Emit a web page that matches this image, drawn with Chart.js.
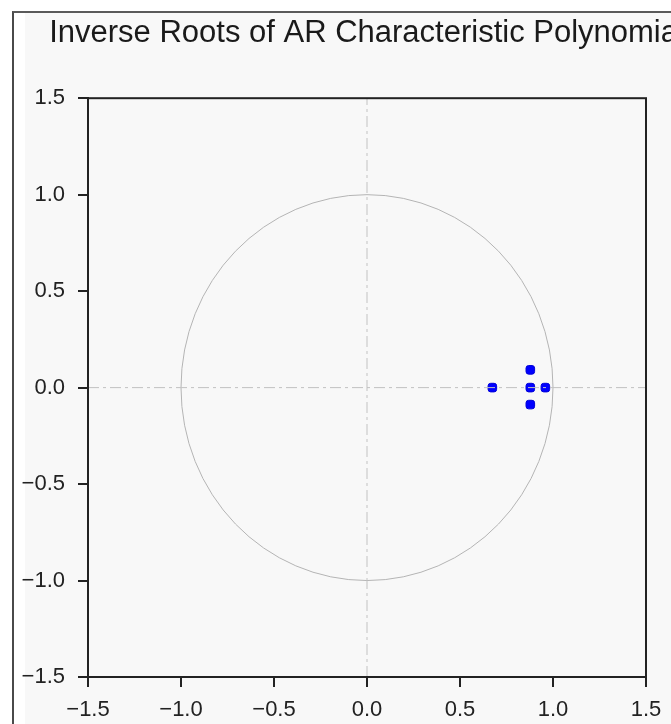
<!DOCTYPE html>
<html>
<head>
<meta charset="utf-8">
<script src="https://cdn.jsdelivr.net/npm/chart.js@4.4.1/dist/chart.umd.min.js"></script>
<style>
  html, body { margin: 0; padding: 0; background: #fff; overflow: hidden; }
  body { width: 671px; height: 724px; position: relative; }
  .frame {
    position: absolute; left: 12px; top: 11px; width: 700px; height: 720px;
    border-left: 2px solid #4a4a4a; border-top: 2px solid #5a5a5a; background: #fff;
  }
  .panel { position: absolute; left: 25px; top: 13px; width: 700px; height: 720px; background: #f8f8f8; }
  #roots { position: absolute; left: 14px; top: 13px; }
</style>
</head>
<body>
<div class="frame"></div>
<div class="panel"></div>
<canvas id="roots" width="702" height="711"></canvas>
<script>
const rootsRe = [0.674, 0.878, 0.878, 0.878, 0.959];
const rootsIm = [0.0, 0.092, 0.0, -0.088, 0.0];

// axis ticks, same for both axes
const tickValues = [-1.5, -1.0, -0.5, 0.0, 0.5, 1.0, 1.5];

const titleText = "Inverse Roots of AR Characteristic Polynomial";

const fmt = (v) => v.toFixed(1).replace("-", "\u2212");

// unit circle + box around the plot area
const unitCircle = {
  id: "unitCircle",
  beforeDatasetsDraw(chart) {
    const { ctx, scales } = chart;
    const cx = scales.x.getPixelForValue(0);
    const cy = scales.y.getPixelForValue(0);
    const rx = scales.x.getPixelForValue(1) - cx;
    const ry = cy - scales.y.getPixelForValue(1);
    ctx.save();
    ctx.strokeStyle = "#b4b4b4";
    ctx.lineWidth = 1;
    ctx.beginPath();
    ctx.ellipse(cx, cy, rx, ry, 0, 0, Math.PI * 2);
    ctx.stroke();
    ctx.restore();
  },
  afterDraw(chart) {
    const { ctx, chartArea: a } = chart;
    ctx.save();
    ctx.strokeStyle = "#222";
    ctx.lineWidth = 2;
    ctx.strokeRect(a.left, a.top, a.right - a.left, a.bottom - a.top);
    ctx.restore();
  },
};

const axisCommon = {
  type: "linear",
  min: -1.5,
  max: 1.5,
  afterBuildTicks(scale) {
    scale.ticks = tickValues.map((v) => ({ value: v }));
  },
  ticks: {
    callback: (v) => fmt(v),
    color: "#222",
    padding: 10,
    font: { family: "Liberation Sans", size: 22 },
  },
  grid: { drawOnChartArea: false, drawTicks: true, tickLength: 10, color: "#222", lineWidth: 2 },
  border: { display: true, color: "#222", width: 2 },
};

const dash = [11, 4, 3, 4];

new Chart(document.getElementById("roots"), {
  type: "scatter",
  data: {
    datasets: [
      {
        type: "line",
        data: [{ x: -1.5, y: 0 }, { x: 1.5, y: 0 }],
        borderColor: "#c2c2c2",
        borderWidth: 1,
        borderDash: dash,
        pointRadius: 0,
      },
      {
        type: "line",
        data: [{ x: 0, y: -1.5 }, { x: 0, y: 1.5 }],
        borderColor: "#c2c2c2",
        borderWidth: 1,
        borderDash: dash,
        pointRadius: 0,
      },
      {
        label: "Inverse roots",
        data: rootsRe.map((re, i) => ({ x: re, y: rootsIm[i] })),
        backgroundColor: "#0000ff",
        borderColor: "#0000d8",
        borderWidth: 1,
        pointStyle: "rectRounded",
        pointRadius: 5,
      },
    ],
  },
  options: {
    responsive: false,
    animation: false,
    layout: { padding: { left: 4, right: 0, top: 0, bottom: 0 } },
    plugins: {
      legend: { display: false },
      tooltip: { enabled: false },
      title: {
        display: true,
        text: titleText,
        color: "#1a1a1a",
        font: { family: "Liberation Sans", size: 31, weight: "normal" },
        padding: { top: 2, bottom: 46 },
      },
    },
    scales: {
      x: {
        ...axisCommon,
        position: "bottom",
        afterFit(scale) { scale.height = 47; },
      },
      y: {
        ...axisCommon,
        position: "left",
        ticks: { ...axisCommon.ticks, padding: 13 },
        afterFit(scale) { scale.width = 70; },
      },
      // empty right-hand axis: keeps the title centred over the plot
      yRight: {
        type: "linear",
        position: "right",
        display: true,
        ticks: { display: false },
        grid: { display: false },
        border: { display: false },
        afterFit(scale) { scale.width = 70; },
      },
    },
  },
  plugins: [unitCircle],
});
</script>
</body>
</html>
